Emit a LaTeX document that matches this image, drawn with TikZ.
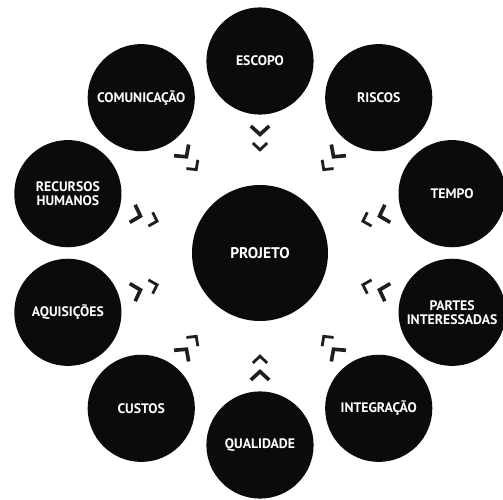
\documentclass[tikz,border=0pt]{standalone}
\usepackage{fontspec}
\setmainfont{PT Sans}
\usetikzlibrary{decorations.markings}

\definecolor{cDisc}{HTML}{0B0B0B}
\definecolor{cArrow}{HTML}{1E1E1E}

\begin{document}
\begin{tikzpicture}[
    font=\bfseries\fontsize{9.8}{10}\selectfont,
    topic/.style={circle, fill=cDisc, text=white, minimum size=2.68cm,
      inner sep=0pt, align=center},
    core/.style={topic, minimum size=3.40cm, font=\bfseries\fontsize{11}{11.5}\selectfont},
    chev/.style={cArrow, line width=2.6pt, line join=miter},
    pull/.style={decoration={markings,
        mark=at position 0.28 with {\draw[chev] (-0.21,0.23) -- (0,0) -- (-0.21,-0.23);},
        mark=at position 0.50 with {\draw[chev, line width=2.0pt] (-0.17,0.18) -- (0,0) -- (-0.17,-0.18);}},
      postaction={decorate}}
  ]

  \useasboundingbox (-6.50,-6.175) rectangle (6.075,6.325);

  % --------------------------------------------------------------------------
  % Centre
  % --------------------------------------------------------------------------
  \node[core] (projeto) at (0,0) {PROJETO};

  % --------------------------------------------------------------------------
  % Ring of knowledge areas (clockwise from the top)
  % --------------------------------------------------------------------------
  \node[topic] (escopo)      at (90:5.05cm and 4.8cm)   {ESCOPO};
  \node[topic] (riscos)      at (54:5.05cm and 4.8cm)   {RISCOS};
  \node[topic] (tempo)       at (18:5.05cm and 4.8cm)   {TEMPO};
  \node[topic] (partes)      at (-18:5.05cm and 4.8cm)  {PARTES\\INTERESSADAS};
  \node[topic] (integracao)  at (-54:5.05cm and 4.8cm)  {INTEGRAÇÃO};
  \node[topic] (qualidade)   at (-90:5.05cm and 4.8cm)  {QUALIDADE};
  \node[topic] (custos)      at (-126:5.05cm and 4.8cm) {CUSTOS};
  \node[topic] (aquisicoes)  at (-162:5.05cm and 4.8cm) {AQUISIÇÕES};
  \node[topic] (recursos)    at (162:5.05cm and 4.8cm)  {RECURSOS\\HUMANOS};
  \node[topic] (comunicacao) at (126:5.05cm and 4.8cm)  {COMUNICAÇÃO};

  % --------------------------------------------------------------------------
  % Double chevrons pointing in to the project
  % --------------------------------------------------------------------------
  \path[pull] (escopo) -- (projeto);
  \path[pull] (riscos) -- (projeto);
  \path[pull] (tempo) -- (projeto);
  \path[pull] (partes) -- (projeto);
  \path[pull] (integracao) -- (projeto);
  \path[pull] (qualidade) -- (projeto);
  \path[pull] (custos) -- (projeto);
  \path[pull] (aquisicoes) -- (projeto);
  \path[pull] (recursos) -- (projeto);
  \path[pull] (comunicacao) -- (projeto);

\end{tikzpicture}
\end{document}
